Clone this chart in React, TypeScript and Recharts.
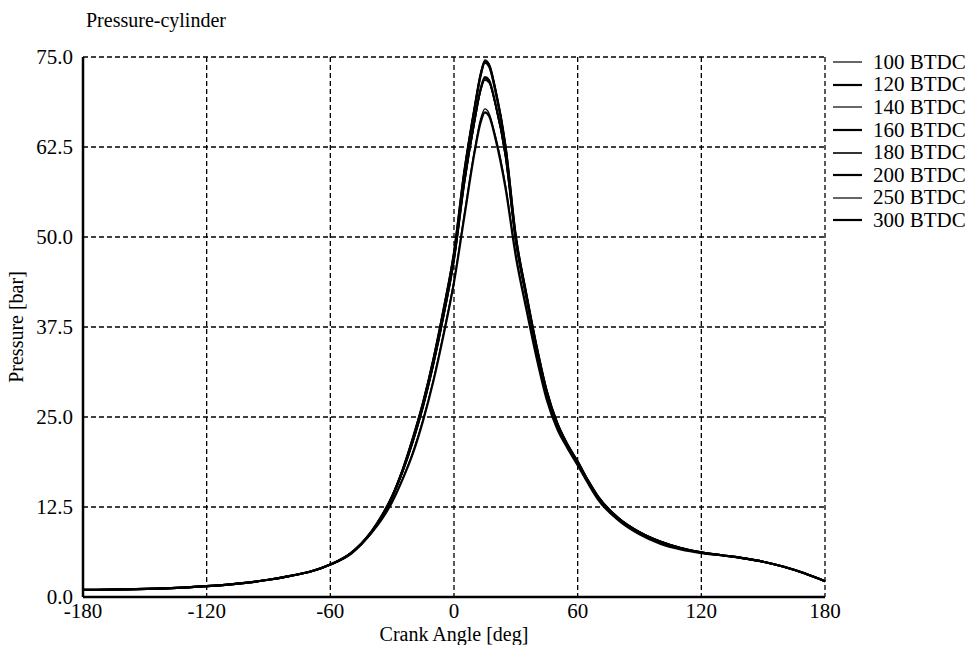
import React from "react";
import { LineChart, Line, XAxis, YAxis, CartesianGrid, Legend } from "recharts";

// Crank angle samples [deg]
const angles = [
  -180, -160, -140, -120, -100, -90, -80, -70, -60, -50, -45, -40, -35, -30, -25, -20, -15, -10, -5, 0,
  5, 10, 13, 15, 17, 20, 25, 30, 35, 40, 45, 50, 55, 60, 65, 70, 80, 90, 100, 110, 120, 130, 140, 150, 160, 170, 180,
];

// Cylinder pressure [bar] per injection timing
const p100 = [
  1.0, 1.05, 1.2, 1.5, 2.0, 2.4, 2.9, 3.5, 4.5, 6.0, 7.3, 8.9, 10.9, 13.3, 16.4, 20.1, 24.7, 30.2, 36.8, 44.0,
  53.2, 62.2, 66.5, 67.8, 67.2, 64.2, 57.2, 47.6, 40.3, 33.5, 27.5, 23.5, 20.8, 18.4, 15.9, 13.6, 10.7, 8.8, 7.5, 6.7, 6.1, 5.8, 5.4, 4.9, 4.2, 3.3, 2.2,
];
const p120 = [
  1.0, 1.05, 1.2, 1.5, 2.0, 2.4, 2.9, 3.5, 4.5, 6.0, 7.3, 8.9, 10.8, 13.2, 16.3, 19.9, 24.5, 30.0, 36.5, 43.7,
  52.8, 61.8, 66.0, 67.3, 66.8, 63.8, 56.8, 47.3, 40.1, 33.3, 27.4, 23.4, 20.7, 18.3, 15.8, 13.5, 10.6, 8.7, 7.4, 6.6, 6.1, 5.8, 5.4, 4.9, 4.2, 3.3, 2.2,
];
const p140 = [
  1.0, 1.05, 1.2, 1.5, 2.0, 2.4, 2.9, 3.5, 4.5, 6.1, 7.4, 9.0, 11.2, 13.8, 17.3, 21.5, 26.4, 32.2, 39.0, 46.7,
  57.3, 65.9, 70.3, 71.8, 71.4, 68.4, 61.1, 49.3, 41.7, 34.4, 28.2, 23.9, 21.0, 18.6, 16.0, 13.7, 10.8, 8.9, 7.6, 6.8, 6.2, 5.8, 5.4, 4.9, 4.2, 3.3, 2.2,
];
const p160 = [
  1.0, 1.05, 1.2, 1.5, 2.0, 2.4, 2.9, 3.5, 4.5, 6.1, 7.4, 9.0, 11.2, 13.9, 17.4, 21.6, 26.5, 32.4, 39.2, 46.9,
  57.6, 66.3, 70.7, 72.2, 71.8, 68.7, 61.4, 49.5, 41.8, 34.5, 28.3, 24.0, 21.1, 18.7, 16.1, 13.8, 10.9, 9.0, 7.7, 6.8, 6.2, 5.8, 5.4, 4.9, 4.2, 3.3, 2.2,
];
const p180 = [
  1.0, 1.05, 1.2, 1.5, 2.0, 2.4, 2.9, 3.5, 4.5, 6.1, 7.4, 9.0, 11.2, 13.9, 17.3, 21.5, 26.4, 32.3, 39.1, 46.8,
  57.5, 66.1, 70.5, 72.0, 71.6, 68.5, 61.2, 49.4, 41.7, 34.4, 28.2, 23.9, 21.0, 18.6, 16.0, 13.7, 10.9, 9.0, 7.7, 6.8, 6.2, 5.8, 5.4, 4.9, 4.2, 3.3, 2.2,
];
const p200 = [
  1.0, 1.05, 1.2, 1.5, 2.0, 2.4, 2.9, 3.5, 4.5, 6.1, 7.4, 9.1, 11.3, 14.0, 17.6, 22.0, 27.0, 33.0, 40.0, 47.8,
  59.0, 67.8, 72.5, 74.2, 73.7, 70.4, 62.5, 50.0, 42.2, 34.9, 28.6, 24.2, 21.2, 18.8, 16.2, 13.9, 10.9, 9.0, 7.7, 6.8, 6.2, 5.8, 5.4, 4.9, 4.2, 3.3, 2.2,
];
const p250 = [
  1.0, 1.05, 1.2, 1.5, 2.0, 2.4, 2.9, 3.5, 4.5, 6.1, 7.4, 9.1, 11.3, 14.1, 17.7, 22.1, 27.1, 33.1, 40.1, 47.9,
  59.2, 68.2, 72.9, 74.6, 74.1, 70.8, 62.8, 50.2, 42.3, 35.0, 28.7, 24.3, 21.2, 18.8, 16.2, 13.9, 10.9, 9.0, 7.7, 6.8, 6.2, 5.8, 5.4, 4.9, 4.2, 3.3, 2.2,
];
const p300 = [
  1.0, 1.05, 1.2, 1.5, 2.0, 2.4, 2.9, 3.5, 4.5, 6.1, 7.4, 9.1, 11.3, 14.0, 17.6, 22.0, 27.0, 33.0, 40.0, 47.8,
  59.1, 68.0, 72.7, 74.4, 73.9, 70.6, 62.6, 50.1, 42.2, 34.9, 28.6, 24.2, 21.2, 18.8, 16.2, 13.9, 10.9, 9.0, 7.7, 6.8, 6.2, 5.8, 5.4, 4.9, 4.2, 3.3, 2.2,
];

const seriesNames = ["100 BTDC", "120 BTDC", "140 BTDC", "160 BTDC", "180 BTDC", "200 BTDC", "250 BTDC", "300 BTDC"];
const seriesValues = [p100, p120, p140, p160, p180, p200, p250, p300];
const seriesWidths = [1.2, 2.2, 1.2, 2.2, 1.6, 2.2, 1.2, 2.2];

const xTicks = [-180, -120, -60, 0, 60, 120, 180];
const yTicks = [0, 12.5, 25, 37.5, 50, 62.5, 75];

const data = angles.map((a, i) => {
  const row: Record<string, number> = { angle: a };
  seriesNames.forEach((name, s) => {
    row[name] = seriesValues[s][i];
  });
  return row;
});

const FONT = "'Liberation Serif', 'DejaVu Serif', serif";

const LegendBox = (props: any) => {
  const items = props.payload || [];
  return (
    <div style={{ fontFamily: FONT, fontSize: 21, color: "#000" }}>
      {items.map((it: any, i: number) => (
        <div key={i} style={{ display: "flex", alignItems: "center", height: 22.6 }}>
          <svg width={40} height={10}>
            <line x1={0} y1={5} x2={29} y2={5} stroke="#000" strokeWidth={seriesWidths[i]} />
          </svg>
          <span style={{ whiteSpace: "nowrap" }}>{it.value}</span>
        </div>
      ))}
    </div>
  );
};

export default function App() {
  return (
    <div style={{ position: "absolute", left: 0, top: 0, width: 973, height: 645, background: "#fff" }}>
      <div
        style={{
          position: "absolute",
          left: 86,
          top: 9,
          fontFamily: FONT,
          fontSize: 20,
          color: "#000",
        }}
      >
        Pressure-cylinder
      </div>
      <LineChart
        width={973}
        height={645}
        data={data}
        margin={{ top: 57, right: 8, bottom: 18, left: 33 }}
      >
        <CartesianGrid stroke="#000" strokeDasharray="5 3" strokeWidth={1.3} />
        <XAxis
          dataKey="angle"
          type="number"
          domain={[-180, 180]}
          ticks={xTicks}
          height={30}
          tickLine={false}
          axisLine={{ stroke: "#000", strokeWidth: 2.5 }}
          tick={{ fill: "#000", fontFamily: FONT, fontSize: 21 }}
          tickMargin={0}
          label={{ value: "Crank Angle [deg]", position: "insideBottom", offset: -14, fill: "#000", fontFamily: FONT, fontSize: 20 }}
        />
        <YAxis
          type="number"
          domain={[0, 75]}
          ticks={yTicks}
          width={50}
          tickLine={false}
          axisLine={{ stroke: "#000", strokeWidth: 2.5 }}
          tickFormatter={(v: number) => v.toFixed(1)}
          tick={{ fill: "#000", fontFamily: FONT, fontSize: 21 }}
          tickMargin={4}
          label={{ value: "Pressure [bar]", angle: -90, position: "insideLeft", offset: -17, fill: "#000", fontFamily: FONT, fontSize: 20, style: { textAnchor: "middle" } }}
        />
        <Legend
          layout="vertical"
          align="right"
          verticalAlign="top"
          content={<LegendBox />}
          wrapperStyle={{ left: 833, top: 51, width: 140 }}
        />
        {seriesNames.map((name, s) => (
          <Line
            key={name}
            dataKey={name}
            name={name}
            type="monotone"
            stroke="#000"
            strokeWidth={seriesWidths[s]}
            dot={false}
            isAnimationActive={false}
          />
        ))}
      </LineChart>
    </div>
  );
}
